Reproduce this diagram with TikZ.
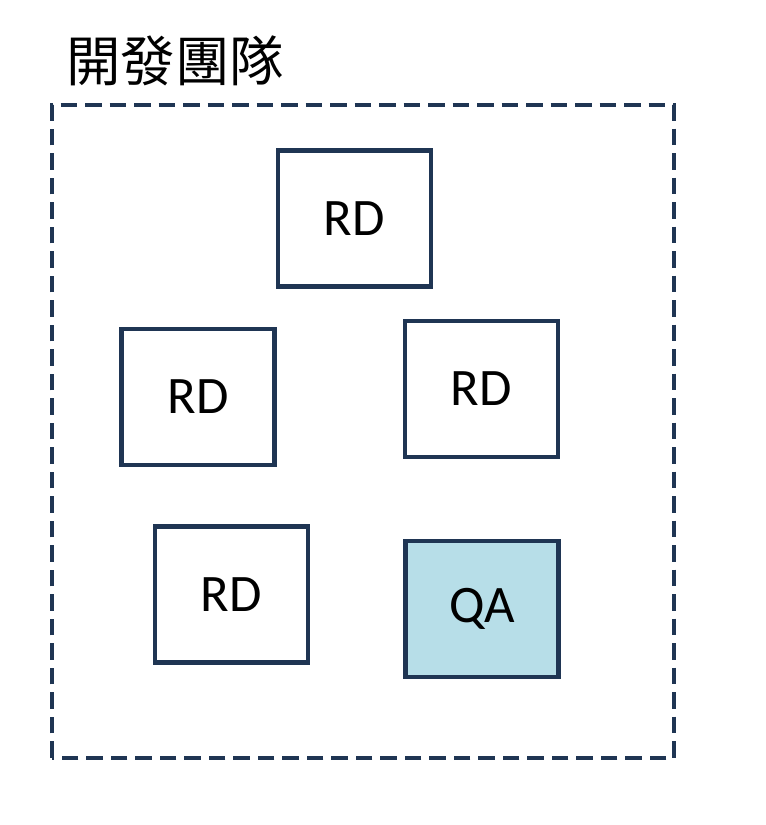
\documentclass[tikz,border=0pt]{standalone}
\usepackage{fontspec}
\setmainfont{Carlito}
\newfontfamily\cjkfont{Noto Sans CJK TC}
\usepackage{tikz}
\usepackage{xcolor}
\definecolor{navyline}{HTML}{1F3553}
\definecolor{qablue}{HTML}{B7DEE8}

\begin{document}
\begin{tikzpicture}[
  box/.style={draw=navyline, line width=2.8pt, minimum width=3.06cm, minimum height=2.72cm, align=center, font=\fontsize{30}{33}\selectfont},
  rdbox/.style={box, fill=white},
  qabox/.style={box, fill=qablue},
  teamframe/.style={draw=navyline, line width=2.8pt, dash pattern=on 0.33cm off 0.16cm}
]
\useasboundingbox (0,0) rectangle (15.32,16.5);

% team frame and its title
\draw[teamframe] (1.04,1.34) rectangle (13.48,14.4);
\node[font=\cjkfont\fontsize{31}{34}\selectfont] (title) at (3.5,15.28) {開發團隊};

% members
\node[rdbox] (rdtop) at (7.09,12.13) {RD};
\node[rdbox] (rdleft) at (3.96,8.56) {RD};
\node[rdbox] (rdright) at (9.63,8.72) {RD};
\node[rdbox] (rdbottom) at (4.63,4.61) {RD};
\node[qabox] (qa) at (9.64,4.32) {QA};

\end{tikzpicture}
\end{document}
